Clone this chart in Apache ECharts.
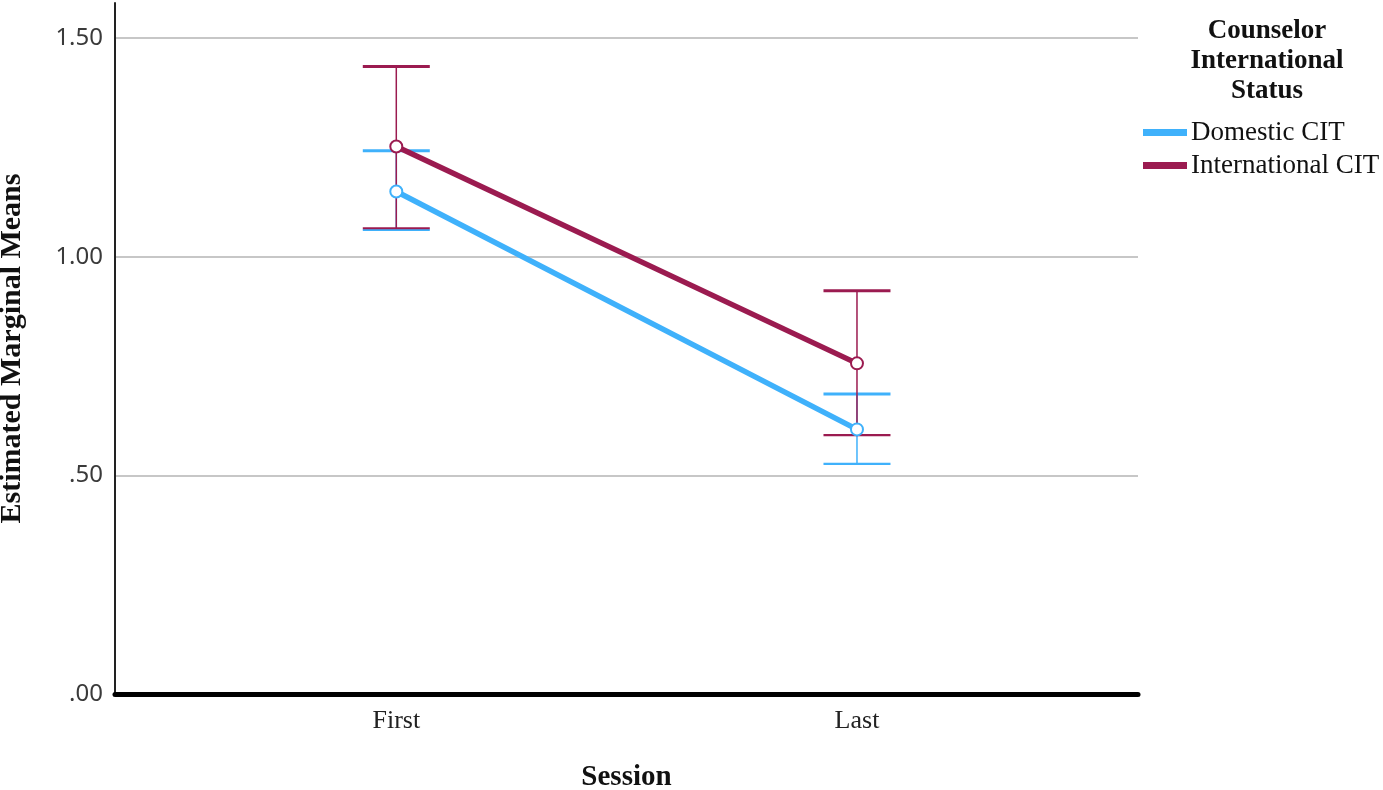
<!DOCTYPE html>
<html>
<head>
<meta charset="utf-8">
<script src="https://cdn.jsdelivr.net/npm/echarts@6/dist/echarts.min.js"></script>
<style>
html,body{margin:0;padding:0;background:#fff;}
#chart{width:1383px;height:790px;}
</style>
</head>
<body>
<div id="chart"></div>
<script>
// ---- data ----
const sessions = ['First', 'Last'];
const seriesNames = ['Domestic CIT', 'International CIT'];
const domesticMean = [1.149, 0.605];
const domesticLower = [1.061, 0.526];
const domesticUpper = [1.242, 0.686];
const internationalMean = [1.252, 0.756];
const internationalLower = [1.065, 0.592];
const internationalUpper = [1.435, 0.922];
const yTicks = [0, 0.5, 1.0, 1.5];
const yTickLabels = ['.00', '.50', '1.00', '1.50'];
const legendTitle = 'Counselor\nInternational\nStatus';

const BLUE = '#3FB1FB';
const MAROON = '#9B1B50';
const SERIF = '"Liberation Serif", "DejaVu Serif", serif';

const chart = echarts.init(document.getElementById('chart'), null, {renderer: 'canvas'});

function errData(lower, upper) {
  return sessions.map((s, i) => [i, lower[i], upper[i]]);
}
function errSeries(name, lower, upper, color, z) {
  return {
    name: name,
    type: 'custom',
    z: z,
    silent: true,
    data: errData(lower, upper),
    encode: {x: 0, y: [1, 2]},
    renderItem: function (params, api) {
      const x = api.value(0);
      const lo = api.coord([x, api.value(1)]);
      const hi = api.coord([x, api.value(2)]);
      const hw = 33.5;
      return {
        type: 'group',
        children: [
          {type: 'line', shape: {x1: lo[0], y1: lo[1], x2: hi[0], y2: hi[1]},
           style: {stroke: color, lineWidth: 1.5}},
          {type: 'line', shape: {x1: hi[0] - hw, y1: hi[1], x2: hi[0] + hw, y2: hi[1]},
           style: {stroke: color, lineWidth: 3}},
          {type: 'line', shape: {x1: lo[0] - hw, y1: lo[1], x2: lo[0] + hw, y2: lo[1]},
           style: {stroke: color, lineWidth: 2.2}}
        ]
      };
    }
  };
}
function meanSeries(name, vals, color, z) {
  return {
    name: name,
    type: 'line',
    z: z,
    data: vals.map((v, i) => [i, v]),
    symbol: 'emptyCircle',
    symbolSize: 12,
    showAllSymbol: true,
    lineStyle: {color: color, width: 5.5},
    itemStyle: {color: color, borderColor: color, borderWidth: 1.6},
    emphasis: {disabled: true}
  };
}

const option = {
  animation: false,
  backgroundColor: '#fff',
  grid: {left: 115, right: 245, top: 3, bottom: 96, containLabel: false, outerBoundsMode: 'none'},
  title: {
    text: legendTitle,
    left: 1262, top: 11, textAlign: 'center',
    textStyle: {fontFamily: SERIF, fontWeight: 'bold', fontSize: 27, lineHeight: 30, color: '#111'}
  },
  legend: {
    orient: 'vertical',
    left: 1138, top: 114,
    itemWidth: 42, itemHeight: 5,
    itemGap: 6,
    icon: 'rect',
    data: seriesNames.map((n, i) => ({name: n, itemStyle: {color: i === 0 ? BLUE : MAROON}})),
    textStyle: {fontFamily: SERIF, fontSize: 27, lineHeight: 27, color: '#111'},
    selectedMode: false
  },
  xAxis: {
    type: 'value',
    min: -0.6106, max: 1.61,
    name: 'Session',
    nameLocation: 'middle',
    nameGap: 69,
    nameTextStyle: {fontFamily: SERIF, fontWeight: 'bold', fontSize: 29, color: '#111'},
    axisLine: {show: true, onZero: false, lineStyle: {color: '#000', width: 5}},
    axisTick: {show: false, customValues: [0, 1]},
    splitLine: {show: false},
    axisLabel: {
      customValues: [0, 1],
      formatter: v => sessions[Math.round(v)],
      margin: 14,
      fontFamily: SERIF, fontSize: 26, color: '#222'
    }
  },
  yAxis: {
    type: 'value',
    min: 0, max: 1.58,
    name: 'Estimated Marginal Means',
    nameLocation: 'middle',
    nameGap: 88,
    nameTextStyle: {fontFamily: SERIF, fontWeight: 'bold', fontSize: 30, color: '#111'},
    axisLine: {show: true, onZero: false, lineStyle: {color: '#222', width: 2}},
    axisTick: {show: false, customValues: yTicks.slice(1)},
    splitLine: {show: true, lineStyle: {color: '#b5b5b5', width: 1.5}},
    axisLabel: {
      customValues: yTicks,
      formatter: v => yTickLabels[yTicks.findIndex(t => Math.abs(t - v) < 1e-6)],
      margin: 12,
      fontFamily: '"Noto Sans", "DejaVu Sans", sans-serif', fontSize: 24, color: '#3a3a3a'
    }
  },
  series: [
    errSeries('Domestic CIT err', domesticLower, domesticUpper, BLUE, 2),
    errSeries('International CIT err', internationalLower, internationalUpper, MAROON, 3),
    meanSeries('Domestic CIT', domesticMean, BLUE, 4),
    meanSeries('International CIT', internationalMean, MAROON, 5)
  ]
};
chart.setOption(option);
</script>
</body>
</html>
